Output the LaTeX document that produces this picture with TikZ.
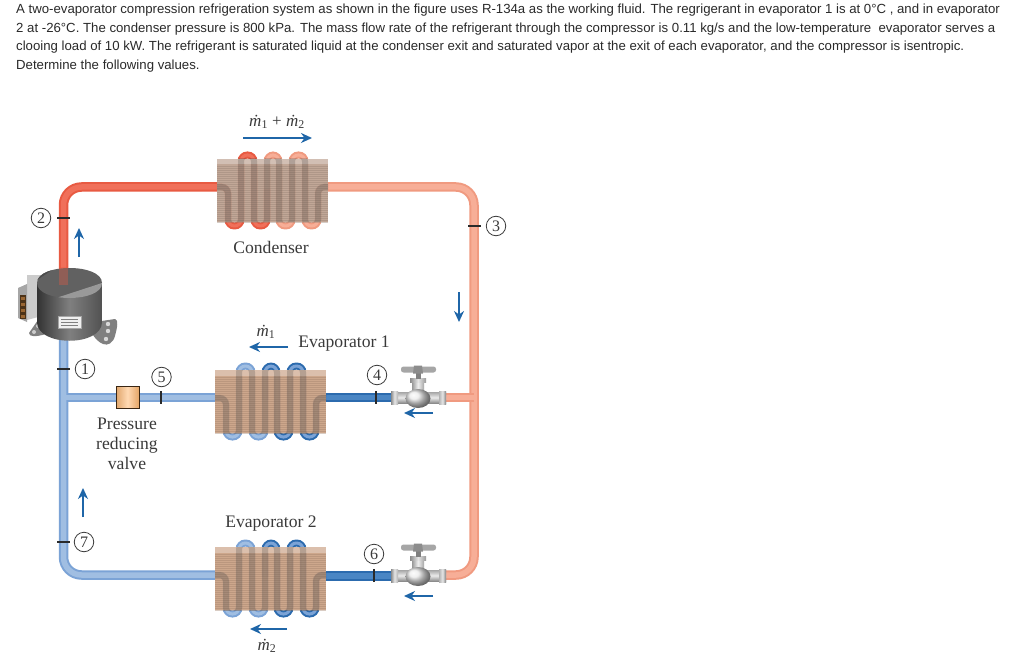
\documentclass[tikz,border=0pt]{standalone}
\usepackage{fontspec}
\setmainfont{Liberation Sans}
\newfontfamily\serifdia{Liberation Serif}
\usetikzlibrary{arrows.meta}
\definecolor{ink}{HTML}{2A2A2A}
\definecolor{flowblue}{HTML}{1F66A8}
\definecolor{labelgrey}{HTML}{3A3A3A}
\definecolor{redO}{HTML}{E85A42}\definecolor{redI}{HTML}{F0705A}
\definecolor{salO}{HTML}{F09A80}\definecolor{salI}{HTML}{F7AE97}
\definecolor{bluO}{HTML}{7BA3D6}\definecolor{bluI}{HTML}{A0BEE2}
\definecolor{dbO}{HTML}{2C6BAE}\definecolor{dbI}{HTML}{4A86C4}
\definecolor{condbox}{HTML}{BCA08F}
\definecolor{evapbox}{HTML}{C9A083}
\tikzset{
  bodytext/.style={anchor=west,inner sep=0pt,text=ink,font=\fontsize{13.2}{15}\selectfont},
  dialabel/.style={inner sep=0pt,text=labelgrey,align=center,font=\serifdia\fontsize{17.6}{20}\selectfont},
  numlabel/.style={circle,draw=labelgrey,line width=.8pt,minimum size=19.5pt,inner sep=0pt,text=labelgrey,font=\serifdia\fontsize{16}{16}\selectfont},
  ratelabel/.style={inner sep=0pt,text=labelgrey,font=\serifdia\fontsize{17}{17}\selectfont},
  flow/.style={draw=flowblue,line width=2pt,-{Stealth[length=11pt,width=10pt]}},
  tickmark/.style={draw=ink,line width=1.5pt},
  pipeO/.style={line width=9.5pt,line join=round,rounded corners=18pt},
  pipeI/.style={line width=5.5pt,line join=round,rounded corners=18pt},
  hxbox/.style={draw=none,inner sep=0pt,minimum width=111pt,minimum height=63pt},
}
\newcommand{\tube}[3]{\draw[pipeO,#1] #3; \draw[pipeI,#2] #3;}
\newcommand{\coilpart}[3]{%
  \draw[#1,line width=7pt,rounded corners=6.4pt] #3;
  \draw[#2,line width=3pt,rounded corners=6.4pt] #3;}
\newcommand{\hxunit}[8]{%
\begin{scope}[shift={(#1,#2)}]
  \coilpart{#3}{#4}{(0,28) -- (11,28) -- (11,67) -- (24,67) -- (24,-4) -- (37,-4) -- (37,67) -- (50,67) -- (50,30)}
  \coilpart{#5}{#6}{(50,30) -- (50,-4) -- (62,-4) -- (62,67) -- (75,67) -- (75,-4) -- (88,-4) -- (88,67) -- (101,67) -- (101,28) -- (111,28)}
  \node[hxbox,anchor=north west,fill=#7,opacity=.92] (#8) at (0,0) {};
  \fill[#7!60!white,opacity=.8] (0,0) rectangle (111,5.5);
  \foreach \fy in {7,9,...,63}{\draw[#7!80!black,line width=.5pt,opacity=.4] (0,\fy) -- (111,\fy);}
  \begin{scope}
    \clip (0,0) rectangle (111,63);
    \draw[black!55!gray,line width=6pt,rounded corners=6.4pt,opacity=.22] (0,28) -- (11,28) -- (11,67) -- (24,67) -- (24,-4) -- (37,-4) -- (37,67) -- (50,67) -- (50,-4) -- (62,-4) -- (62,67) -- (75,67) -- (75,-4) -- (88,-4) -- (88,67) -- (101,67) -- (101,28) -- (111,28);
  \end{scope}
\end{scope}}
\newcommand{\valveunit}[2]{%
\begin{scope}[shift={(#1,#2)}]
  \fill[top color=black!35,bottom color=black!45,middle color=black!8] (-26,-5.5) rectangle (29,5.5);
  \fill[left color=black!45,right color=black!30,middle color=black!10] (-26,-6.5) rectangle (-19,6.5);
  \fill[left color=black!30,right color=black!50,middle color=black!10] (22,-6.5) rectangle (29,6.5);
  \fill[left color=black!40,right color=black!35,middle color=black!6] (-5,-17) rectangle (7,0);
  \fill[left color=black!45,right color=black!40,middle color=black!10] (-7,-19) rectangle (9,-15);
  \fill[black!50] (-1.5,-28) rectangle (3.5,-19);
  \fill[black!35,rounded corners=2.5pt] (-16,-31) rectangle (0,-25);
  \fill[black!35,rounded corners=2.5pt] (2,-31) rectangle (19,-25);
  \fill[black!45] (-3,-32) -- (5,-32) -- (6,-24) -- (-4,-24) -- cycle;
  \shade[ball color=black!8] (1,1) ellipse (12.5pt and 9.5pt);
\end{scope}}
\begin{document}
\begin{tikzpicture}[x=1pt,y=-1pt]
\fill[white] (0,0) rectangle (1024,660);
\useasboundingbox (0,0) rectangle (1024,660);

% problem statement
\node[bodytext] (l1) at (16,10) {A two-evaporator compression refrigeration system as shown in the figure uses R-134a as the working fluid. The regrigerant in evaporator 1 is at 0°C , and in evaporator};
\node[bodytext] (l2) at (16,29) {2 at -26°C. The condenser pressure is 800 kPa. The mass flow rate of the refrigerant through the compressor is 0.11 kg/s and the low-temperature\ \ evaporator serves a};
\node[bodytext] (l3) at (16,47) {clooing load of 10 kW. The refrigerant is saturated liquid at the condenser exit and saturated vapor at the exit of each evaporator, and the compressor is isentropic.};
\node[bodytext] (l4) at (16,66) {Determine the following values.};

% port coordinates
\coordinate (compTop) at (63.5,285);
\coordinate (compBot) at (63.5,335);
\coordinate (condIn) at (217,187);
\coordinate (condOut) at (328,187);
\coordinate (cornerTL) at (63.5,187);
\coordinate (cornerTR) at (474,187);
\coordinate (cornerBR) at (474,575);
\coordinate (cornerBL) at (63.5,575);
\coordinate (e1In) at (326,397.5);
\coordinate (e1Out) at (215,397.5);
\coordinate (e2In) at (326,576);
\coordinate (e2Out) at (215,575);
\coordinate (v1R) at (445,397.5);
\coordinate (v1L) at (391,397.5);
\coordinate (v2R) at (445,575);
\coordinate (v2L) at (391,576);
\coordinate (jctR) at (474,397.5);
\coordinate (jctL) at (63.5,397.5);
\coordinate (prvL) at (116,397.5);
\coordinate (prvR) at (139,397.5);

% pipes
\tube{salO}{salI}{(condOut) -- (cornerTR) -- (cornerBR) -- (v2R)}
\tube{salO}{salI}{(jctR) -- (v1R)}
\tube{redO}{redI}{(compTop) -- (cornerTL) -- (condIn)}
\draw[pipeO,bluO] (compBot) -- (cornerBL) -- (e2Out);
\draw[pipeO,bluO] (jctL) -- (prvL);
\draw[pipeO,bluO] (prvR) -- (e1Out);
\draw[pipeI,bluI] (compBot) -- (cornerBL) -- (e2Out);
\draw[pipeI,bluI] (jctL) -- (prvL);
\draw[pipeI,bluI] (prvR) -- (e1Out);
\tube{dbO}{dbI}{(e1In) -- (v1L)}
\tube{dbO}{dbI}{(e2In) -- (v2L)}

% heat exchangers
\hxunit{217}{159}{redO}{redI}{salO}{salI}{condbox}{cond}
\hxunit{215}{370}{bluO}{bluI}{dbO}{bluO}{evapbox}{evapA}
\hxunit{215}{547}{bluO}{bluI}{dbO}{bluO}{evapbox}{evapB}

% valves
\valveunit{417}{397.5}
\valveunit{417}{575.5}

% pressure reducing valve
\node[draw=black!70!brown,line width=1pt,minimum width=23pt,minimum height=22pt,inner sep=0pt,left color=brown!70!orange!70!white,right color=brown!60!orange!70!white,middle color=orange!30!white] (prv) at (127.5,397) {};

% compressor
\fill[black!50] (95,322) -- (115,319) .. controls (119,320) and (117,328) .. (115,336) .. controls (113,343) and (108,346) .. (103,344) .. controls (98,342) and (95,338) .. (93,335) -- cycle;
\fill[black!15] (108,324) circle (2.2pt) (108,331) circle (2.2pt) (106,339) circle (2.2pt);
\fill[black!50] (38,320) -- (29,333) .. controls (29,337) and (36,337) .. (46,334) -- (46,322) -- cycle;
\fill[black!20] (38,326) circle (2pt) (34,332) circle (2pt);
\fill[black!20] (27,275) -- (42,275) -- (42,316) -- (27,320) -- cycle;
\fill[black!35] (18,288) -- (27,284) -- (27,322) -- (18,318) -- cycle;
\fill[black!60!brown] (20,295) rectangle (26,319);
\foreach \by in {297,303,309,315}{\fill[brown!80!black] (21,\by) rectangle (25,\by+3);}
\shade[left color=black!80,right color=black!68,middle color=black!50] (37,283) -- (37,322) .. controls (37,347) and (102,347) .. (102,322) -- (102,283) -- cycle;
\fill[black!62] (37,283) .. controls (37,263) and (102,263) .. (102,283) .. controls (102,303) and (37,303) .. (37,283) -- cycle;
\begin{scope}
  \clip (37,283) .. controls (37,263) and (102,263) .. (102,283) .. controls (102,303) and (37,303) .. (37,283) -- cycle;
  \fill[black!40] (50,300) -- (102,283) -- (102,300) -- cycle;
  \fill[black!70] (37,280) -- (55,268) -- (37,268) -- cycle;
\end{scope}
\fill[redO,opacity=.35] (59,267) rectangle (68,285);
\node[fill=black!6,draw=black!35,line width=.4pt,minimum width=23pt,minimum height=12pt,inner sep=0pt] (plate) at (69.5,322) {};
\foreach \py in {319,322,325}{\draw[black!50,line width=.5pt] (61,\py) -- (78,\py);}

% ticks
\coordinate (t2a) at (57,218);\coordinate (t2b) at (70,218);
\coordinate (t3a) at (468,226);\coordinate (t3b) at (481,226);
\coordinate (t1a) at (57,369);\coordinate (t1b) at (70,369);
\coordinate (t7a) at (57,542);\coordinate (t7b) at (70,542);
\coordinate (t5a) at (161,391);\coordinate (t5b) at (161,404);
\coordinate (t4a) at (376,391);\coordinate (t4b) at (376,404);
\coordinate (t6a) at (374,569);\coordinate (t6b) at (374,582);
\foreach \ta/\tb in {t2a/t2b,t3a/t3b,t1a/t1b,t7a/t7b,t5a/t5b,t4a/t4b,t6a/t6b}{\draw[tickmark] (\ta) -- (\tb);}

% numbers
\node[numlabel] (n1) at (85,369) {1};
\node[numlabel] (n2) at (41,218) {2};
\node[numlabel] (n3) at (496,226) {3};
\node[numlabel] (n4) at (377,375) {4};
\node[numlabel] (n5) at (161.5,377) {5};
\node[numlabel] (n6) at (374,554) {6};
\node[numlabel] (n7) at (84,542) {7};

% labels
\node[dialabel] (lc) at (271,247) {Condenser};
\node[dialabel] (le1) at (344,344) {Evaporator 1};
\node[dialabel] (le2) at (271,524) {Evaporator 2};
\node[dialabel] (lp) at (127,444) {Pressure\\reducing\\valve};
\node[ratelabel] (r12) at (277,122) {\textit{ṁ}\textsubscript{1} + \textit{ṁ}\textsubscript{2}};
\node[ratelabel] (r1) at (266,332) {\textit{ṁ}\textsubscript{1}};
\node[ratelabel] (r2) at (267,646) {\textit{ṁ}\textsubscript{2}};

% flow arrows
\coordinate (f1a) at (243,138);\coordinate (f1b) at (312,138);
\coordinate (f2a) at (79,257);\coordinate (f2b) at (79,228);
\coordinate (f3a) at (459,292);\coordinate (f3b) at (459,322);
\coordinate (f4a) at (288,347);\coordinate (f4b) at (249,347);
\coordinate (f5a) at (433,413);\coordinate (f5b) at (404,413);
\coordinate (f6a) at (433,596);\coordinate (f6b) at (404,596);
\coordinate (f7a) at (287,629);\coordinate (f7b) at (250,629);
\coordinate (f8a) at (83,517);\coordinate (f8b) at (83,488);
\foreach \fa/\fb in {f1a/f1b,f2a/f2b,f3a/f3b,f4a/f4b,f5a/f5b,f6a/f6b,f7a/f7b,f8a/f8b}{\draw[flow] (\fa) -- (\fb);}
\end{tikzpicture}
\end{document}
